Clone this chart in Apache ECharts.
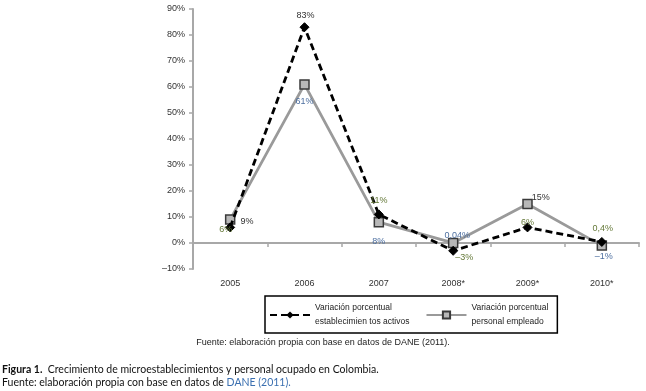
<!DOCTYPE html>
<html><head><meta charset="utf-8">
<script src="https://cdn.jsdelivr.net/npm/echarts@6/dist/echarts.min.js"></script>
<style>
html,body{margin:0;padding:0;background:#fff;}
#c{width:646px;height:391px;}
</style></head>
<body><div id="c"></div>
<script>
const categories = ['2005','2006','2007','2008*','2009*','2010*'];
const activosValues = [6, 83, 11, -3, 6, 0.4];
const personalValues = [9, 61, 8, 0.04, 15, -1];
const activosLabels = ['6%','83%','11%','–3%','6%','0,4%'];
const personalLabels = ['9%','61%','8%','0,04%','15%','–1%'];
const yTicks = {min:-10, max:90, interval:10};
const seriesNames = ['Variación porcentual\nestablecimien tos activos','Variación porcentual\npersonal empleado'];

const DARK = '#333', OLIVE = '#667a3a', BLUE = '#4d6fa0';
const actLabelStyle = [
  {color:OLIVE, position:'left', offset:[12,2]},
  {color:DARK, position:'top', offset:[1,3]},
  {color:OLIVE, position:'top', offset:[0,1]},
  {color:OLIVE, position:'right', offset:[-8,7]},
  {color:OLIVE, position:'top', offset:[0,10]},
  {color:OLIVE, position:'top', offset:[1,1]}
];
const perLabelStyle = [
  {color:DARK, position:'right', offset:[0,2]},
  {color:BLUE, position:'bottom', offset:[0,2]},
  {color:BLUE, position:'bottom', offset:[0,5]},
  {color:BLUE, position:'top', offset:[4,7]},
  {color:DARK, position:'right', offset:[-6,-6]},
  {color:BLUE, position:'bottom', offset:[2,-4]}
];

const chart = echarts.init(document.getElementById('c'));
chart.setOption({
  animation:false,
  backgroundColor:'#fff',
  textStyle:{fontFamily:'Liberation Sans, Arial, sans-serif'},
  grid:{left:193, right:7, top:9, bottom:122},
  xAxis:{
    type:'category', data:categories, boundaryGap:true,
    axisLine:{onZero:true, lineStyle:{color:'#a8a8a8', width:2}},
    axisTick:{show:true, length:4, lineStyle:{color:'#a8a8a8', width:1.5}},
    axisLabel:{margin:10, color:'#333', fontSize:9}
  },
  yAxis:{
    type:'value', min:yTicks.min, max:yTicks.max, interval:yTicks.interval,
    splitLine:{show:false},
    axisLine:{show:true, lineStyle:{color:'#a8a8a8', width:2}},
    axisTick:{show:true, length:4, lineStyle:{color:'#a8a8a8', width:1.5}},
    axisLabel:{color:'#333', fontSize:9, margin:8,
      formatter:v => v < 0 ? '–' + Math.abs(v) + '%' : v + '%'}
  },
  legend:{
    left:265, top:296,
    orient:'horizontal',
    padding:[5,9,4,4], itemGap:16, itemWidth:40, itemHeight:9,
    borderColor:'#000', borderWidth:1.5,
    textStyle:{fontSize:8.5, color:'#222', lineHeight:14},
    data:seriesNames
  },
  series:[
    {
      name:seriesNames[0], type:'line', z:3,
      data:activosValues.map((v,i)=>({value:v, label:{show:true, formatter:activosLabels[i], color:actLabelStyle[i].color, position:actLabelStyle[i].position, offset:actLabelStyle[i].offset, fontSize:9}})),
      symbol:'diamond', symbolSize:9,
      lineStyle:{color:'#000', width:2.8, type:[7,4]},
      itemStyle:{color:'#000', borderColor:'#000'}
    },
    {
      name:seriesNames[1], type:'line', z:2,
      data:personalValues.map((v,i)=>({value:v, label:{show:true, formatter:personalLabels[i], color:perLabelStyle[i].color, position:perLabelStyle[i].position, offset:perLabelStyle[i].offset, fontSize:9}})),
      symbol:'rect', symbolSize:9,
      lineStyle:{color:'#9a9a9a', width:2.8},
      itemStyle:{color:'#b8b8b8', borderColor:'#3a3a3a', borderWidth:1.5}
    }
  ],
  graphic:[
    {type:'text', left:'center', top:338, style:{text:'Fuente: elaboración propia con base en datos de DANE (2011).', fontSize:9, fill:'#222', fontFamily:'Liberation Sans, Arial, sans-serif'}},
    {type:'text', left:2, top:364, style:{
      rich:{b:{fontWeight:'bold', fontSize:10.5, fontFamily:'Lato', fill:'#111'}, n:{fontSize:10.5, fontFamily:'Lato', fill:'#111'}},
      text:'{b|Figura 1.}{n|  Crecimiento de microestablecimientos y personal ocupado en Colombia.}'}},
    {type:'text', left:2, top:377, style:{
      rich:{n:{fontSize:10.5, fontFamily:'Lato', fill:'#111'}, l:{fontSize:10.5, fontFamily:'Lato', fill:'#3a6fb0'}},
      text:'{n|Fuente: elaboración propia con base en datos de }{l|DANE (2011).}'}}
  ]
});
</script>
</body></html>
